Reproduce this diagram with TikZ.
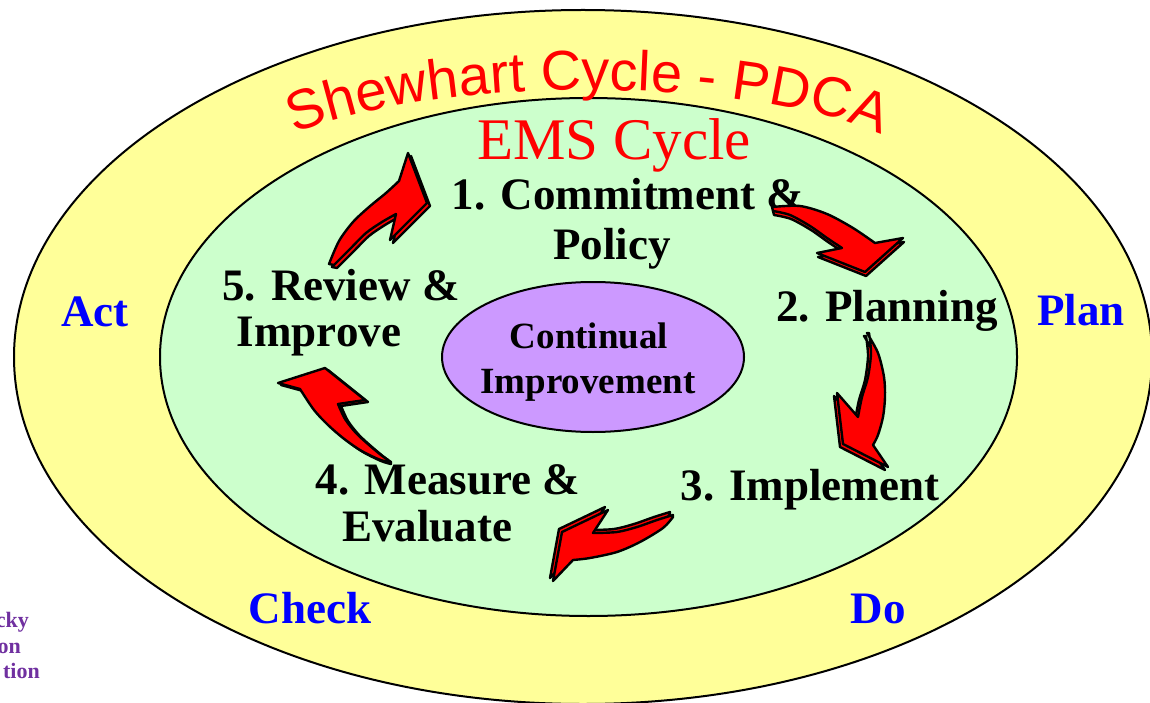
\documentclass[tikz,border=0pt]{standalone}
\usepackage{fontspec}
\setmainfont{Liberation Serif}
\newfontfamily\arialfont{Liberation Sans}
\usetikzlibrary{decorations.text,shapes.geometric}
\definecolor{ringyellow}{RGB}{255,255,153}
\definecolor{ringgreen}{RGB}{204,255,204}
\definecolor{corepurple}{RGB}{204,153,255}
\definecolor{logopurple}{RGB}{112,48,160}
\newcommand\titlefont{\arialfont\fontsize{56}{60}\selectfont}
\newcommand\blockarr[2]{\path[arrface,shift={#2}] #1; \path[arrface] #1;}
\begin{document}
\begin{tikzpicture}[x=1pt,y=1pt,
  ring/.style={draw=black,line width=2pt},
  steplabel/.style={font=\bfseries\fontsize{45}{50}\selectfont,anchor=base,inner sep=0pt},
  phaselabel/.style={steplabel,text=blue},
  corelabel/.style={font=\bfseries\fontsize{37}{45}\selectfont,anchor=base,inner sep=0pt},
  arrface/.style={fill=red,draw=black,line width=2.4pt,line join=round},
  logotext/.style={font=\bfseries\fontsize{22}{25}\selectfont,text=logopurple,anchor=base east,inner sep=0pt}]
\clip (0,0) rectangle (1150,-703);
\fill[white] (0,0) rectangle (1150,-703);
% rings
\draw[ring,fill=ringyellow] (583,-357) ellipse [x radius=569,y radius=347];
\draw[ring,fill=ringgreen] (588.5,-357) ellipse [x radius=428.5,y radius=259];
\node[ellipse,draw=black,line width=2pt,fill=corepurple,minimum width=302,minimum height=150,inner sep=0pt] (core) at (593,-357) {};
\node[corelabel] (core1) at (589,-348) {Continual};
\node[corelabel] (core2) at (588,-393) {Improvement};
% title along arc
\path[decorate,decoration={text along path,text={|\titlefont|Shewhart Cycle - PDCA},text color=red,text align=center}]
  (588,-180) ++(160:340 and 90) arc[start angle=160,end angle=20,x radius=340,y radius=90];
\node[font=\fontsize{59}{60}\selectfont,text=red,anchor=base,inner sep=0pt] (ems) at (614,-160) {EMS Cycle};
% step labels
\node[steplabel] (l1a) at (628,-210) {1. Commitment \&};
\node[steplabel] (l1b) at (612,-259) {Policy};
\node[steplabel] (l2) at (887,-321) {2. Planning};
\node[steplabel] (l3) at (810,-500) {3. Implement};
\node[steplabel] (l4a) at (448,-494) {4. Measure \&};
\node[steplabel] (l4b) at (427,-541) {Evaluate};
\node[steplabel] (l5a) at (341,-300) {5. Review \&};
\node[steplabel] (l5b) at (319,-346) {Improve};
% phase labels
\node[phaselabel] (act) at (95,-326) {Act};
\node[phaselabel] (plan) at (1081,-325) {Plan};
\node[phaselabel] (check) at (310,-623) {Check};
\node[phaselabel] (do) at (878,-623) {Do};
% logo fragments
\node[logotext] (lg1) at (29,-627) {cky};
\node[logotext] (lg2) at (21,-653) {on};
\node[logotext] (lg3) at (40,-678) {tion};
% block arrows
\blockarr{plot[smooth] coordinates {(329,-264) (339,-241) (353,-222) (369,-207) (386,-193) (399,-181)} -- (408,-153) -- (427,-203) -- (390,-240) -- (396,-214) -- plot[smooth] coordinates {(396,-214) (382,-222) (366,-233) (350,-249) (334,-265)} -- cycle}{(3,-3)}
\blockarr{plot[smooth] coordinates {(772,-207) (800,-206) (827,-214) (853,-228) (875,-243)} -- (903,-238) -- (865,-272) -- (817,-253) -- (842,-248) -- plot[smooth] coordinates {(842,-248) (827,-238) (810,-226) (790,-215) (773,-211)} -- cycle}{(1,-4)}
\blockarr{plot[smooth] coordinates {(867,-333) (878,-353) (884,-377) (885,-397) (883,-417) (878,-435) (873,-445)} -- (888,-467) -- (843,-444) -- (837,-393) -- (858,-417) -- plot[smooth] coordinates {(858,-417) (862,-397) (868,-377) (871,-353) (869,-333)} -- cycle}{(-3,-3)}
\blockarr{plot[smooth] coordinates {(673,-517) (663,-528) (640,-542) (617,-552) (590,-558) (573,-560)} -- (553,-581) -- (562,-532) -- (608,-510) -- (593,-533) -- plot[smooth] coordinates {(593,-533) (617,-532) (637,-527) (657,-520) (673,-515)} -- cycle}{(-3,3)}
\blockarr{plot[smooth] coordinates {(388,-462) (378,-459) (360,-450) (343,-438) (328,-425) (314,-410) (300,-389)} -- (278,-383) -- (325,-368) -- (365,-400) -- (338,-404) -- plot[smooth] coordinates {(338,-404) (345,-419) (356,-433) (369,-445) (381,-455) (388,-460)} -- cycle}{(3,-2)}
\end{tikzpicture}
\end{document}
